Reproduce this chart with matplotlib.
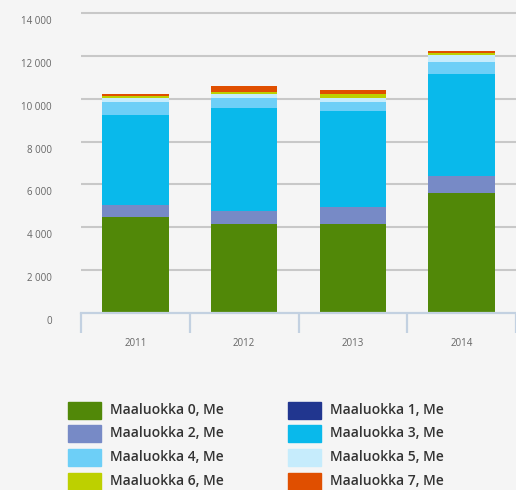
import matplotlib.pyplot as plt
from matplotlib.patches import Rectangle
from matplotlib.transforms import ScaledTranslation, blended_transform_factory

plt.rcParams['font.family'] = ['Open Sans', 'DejaVu Sans']

# Dane (Me)
years = ['2011', '2012', '2013', '2014']
labels = ['Maaluokka 0, Me', 'Maaluokka 1, Me', 'Maaluokka 2, Me', 'Maaluokka 3, Me',
          'Maaluokka 4, Me', 'Maaluokka 5, Me', 'Maaluokka 6, Me', 'Maaluokka 7, Me']
colors = ['#518808', '#21368f', '#778ac6', '#09b9eb',
          '#6dcff7', '#c6ecfc', '#bdd000', '#e04f00']
ml0 = [4500, 4150, 4150, 5580]
ml1 = [0, 0, 0, 0]
ml2 = [550, 620, 800, 830]
ml3 = [4200, 4820, 4460, 4760]
ml4 = [620, 455, 450, 570]
ml5 = [170, 185, 185, 290]
ml6 = [90, 90, 185, 90]
ml7 = [100, 300, 190, 100]
series = [ml0, ml1, ml2, ml3, ml4, ml5, ml6, ml7]
yticks = [0, 2000, 4000, 6000, 8000, 10000, 12000, 14000]

W, H = 516, 490
fig = plt.figure(figsize=(W / 100, H / 100), dpi=100, facecolor='#f5f5f5')
ax = fig.add_axes([81 / W, (H - 313) / H, 1 - 81 / W, 302 / H])
ax.set_facecolor('#f5f5f5')
ax.set_xlim(-0.5, 3.5)
ax.set_ylim(0, 14100)

# siatka pozioma
for t in yticks[1:]:
    ax.axhline(t, color='#c8c8c8', lw=1.5, zorder=0)

x = range(len(years))
bottom = [0] * len(years)
for vals, c in zip(series, colors):
    ax.bar(x, vals, width=0.61, bottom=bottom, color=c, linewidth=0, zorder=2)
    bottom = [b + v for b, v in zip(bottom, vals)]

for s in ax.spines.values():
    s.set_visible(False)

# oś pozioma z przegródkami
ax.axhline(0, color='#c3d1e1', lw=1.6, zorder=3, clip_on=False)
trans = blended_transform_factory(ax.transData, ax.transAxes)
for xv in [-0.5, 0.5, 1.5, 2.5, 3.5]:
    ax.plot([xv, xv], [0, -0.066], transform=trans, color='#c3d1e1', lw=1.6,
            clip_on=False, solid_capstyle='butt')

ax.set_yticks(yticks)
ax.set_yticklabels([f'{t:,}'.replace(',', ' ') for t in yticks])
ax.set_xticks(list(x))
ax.set_xticklabels(years)
ax.tick_params(axis='both', length=0, labelsize=7, labelcolor='#666666')
ax.tick_params(axis='y', pad=21)
ax.tick_params(axis='x', pad=18)
off = ScaledTranslation(0, -5 / 72, fig.dpi_scale_trans)
for lab in ax.get_yticklabels():
    lab.set_transform(lab.get_transform() + off)

# legenda
rows_y = [410, 433, 457, 481]
for i, (lab, c) in enumerate(zip(labels, colors)):
    col, row = i % 2, i // 2
    x0 = 68 if col == 0 else 288
    yc = rows_y[row]
    fig.add_artist(Rectangle((x0 / W, (H - yc - 8.5) / H), 33 / W, 17 / H,
                             transform=fig.transFigure, color=c))
    fig.text((x0 + 42) / W, (H - yc) / H, lab, fontsize=10, color='#333333',
             va='center', ha='left', fontweight='semibold')

fig.savefig('out.png', dpi=100, facecolor=fig.get_facecolor())
